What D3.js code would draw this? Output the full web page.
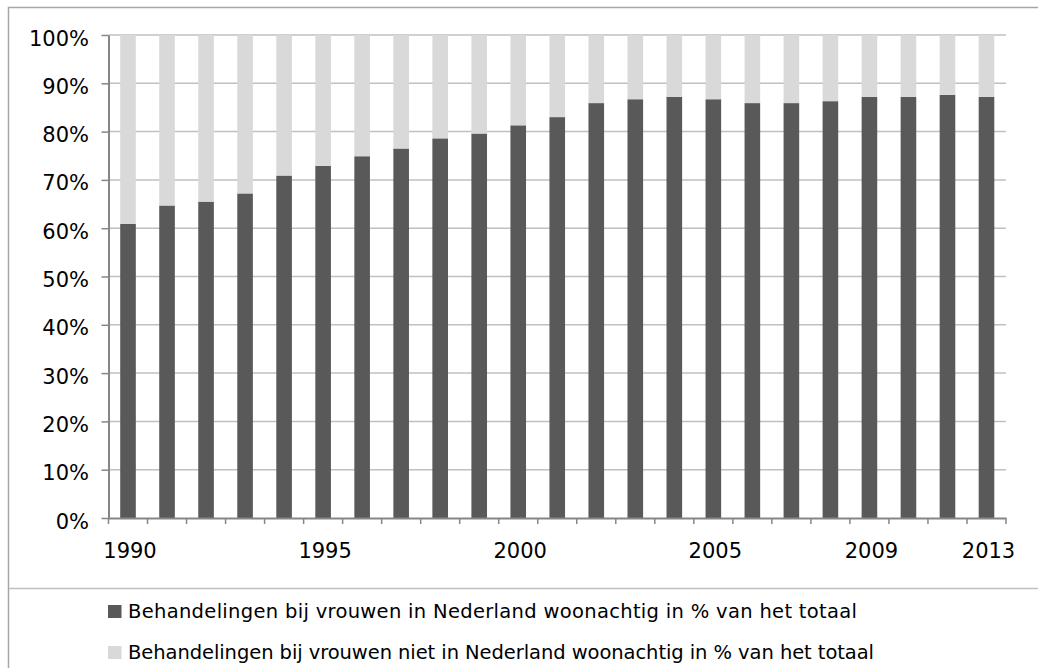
<!DOCTYPE html>
<html>
<head>
<meta charset="utf-8">
<script src="https://cdn.jsdelivr.net/npm/d3@7/dist/d3.min.js"></script>
<style>
  html, body { margin: 0; padding: 0; background: #fff; }
  svg { display: block; font-family: "DejaVu Sans", Verdana, sans-serif; }
</style>
</head>
<body>
<svg id="chart" width="1038" height="668"></svg>
<script>
// Category labels (blank = unlabeled category)
const categories = ["1990","","","","","1995","","","","","2000","","","","","2005","","","","2009","","","2013"];
// Share of treatments for women living in the Netherlands (%)
const inNL = [60.9, 64.7, 65.5, 67.2, 70.9, 72.9, 74.9, 76.5, 78.6, 79.6, 81.3, 83.0, 85.9, 86.7, 87.2, 86.7, 85.9, 85.9, 86.3, 87.2, 87.2, 87.6, 87.2];
// Share of treatments for women not living in the Netherlands (%)
const notNL = [39.1, 35.3, 34.5, 32.8, 29.1, 27.1, 25.1, 23.5, 21.4, 20.4, 18.7, 17.0, 14.1, 13.3, 12.8, 13.3, 14.1, 14.1, 13.7, 12.8, 12.8, 12.4, 12.8];
const yTicks = [0, 10, 20, 30, 40, 50, 60, 70, 80, 90, 100];
const seriesNames = [
  "Behandelingen bij vrouwen in Nederland woonachtig in % van het totaal",
  "Behandelingen bij vrouwen niet in Nederland woonachtig in % van het totaal"
];
const seriesColors = ["#595959", "#d9d9d9"];

(function () {
const svg = d3.select("#chart");
const mLeft = 108.5, mRight = 1006, mTop = 35, mBottom = 518;

// outer frame
svg.append("rect").attr("x", 8.5).attr("y", 7.5).attr("width", 1040).attr("height", 700)
  .attr("fill", "none").attr("stroke", "#a6a6a6").attr("stroke-width", 1.5);
// legend separator
svg.append("line").attr("x1", 9).attr("x2", 1038).attr("y1", 588.5).attr("y2", 588.5)
  .attr("stroke", "#bfbfbf").attr("stroke-width", 1.5);

const idx = d3.range(categories.length);
const x = d3.scaleBand().domain(idx).range([mLeft, mRight]).padding(0);
const xBar = d3.scaleBand().domain(idx).range([mLeft, mRight]).paddingInner(0.6).paddingOuter(0.3);
const y = d3.scaleLinear().domain([0, 100]).range([mBottom, mTop]);

// gridlines
svg.append("g").selectAll("line").data(yTicks.filter(d => d > 0)).join("line")
  .attr("x1", mLeft).attr("x2", mRight)
  .attr("y1", d => y(d)).attr("y2", d => y(d))
  .attr("stroke", "#c0c0c0").attr("stroke-width", 1.5);

// stacked bars
const stackData = idx.map(i => ({ i, a: inNL[i], b: notNL[i] }));
const stack = d3.stack().keys(["a", "b"])(stackData);
svg.append("g").selectAll("g").data(stack).join("g")
  .attr("fill", (d, k) => seriesColors[k])
  .selectAll("rect").data(d => d).join("rect")
  .attr("x", d => xBar(d.data.i))
  .attr("width", xBar.bandwidth())
  .attr("y", d => y(d[1]))
  .attr("height", d => y(d[0]) - y(d[1]));

// y axis
const yAxis = svg.append("g").attr("transform", `translate(${mLeft},0)`)
  .call(d3.axisLeft(y).tickValues(yTicks).tickSizeInner(7).tickSizeOuter(0).tickPadding(12).tickFormat(d => d + "%"));
yAxis.select(".domain").attr("stroke", "#868686").attr("stroke-width", 2);
yAxis.selectAll(".tick line").attr("stroke", "#868686").attr("stroke-width", 1.5);
yAxis.selectAll(".tick text").attr("font-size", 21).attr("font-family", "DejaVu Sans")
  .attr("fill", "#000").attr("dy", 0).attr("y", 10).attr("x", -19.5);

// x axis line and boundary ticks
const xAxis = svg.append("g").attr("transform", `translate(0,${mBottom})`)
  .call(d3.axisBottom(x).tickSize(0).tickPadding(0).tickFormat(i => categories[i]));
xAxis.select(".domain").attr("stroke", "#868686").attr("stroke-width", 2);
xAxis.selectAll(".tick text").attr("font-size", 21).attr("font-family", "DejaVu Sans")
  .attr("fill", "#000").attr("dy", 0).attr("y", 39.5).attr("x", 2);
const bounds = idx.map(i => x(i)).concat([mRight]);
svg.append("g").selectAll("line").data(bounds).join("line")
  .attr("x1", d => d).attr("x2", d => d).attr("y1", mBottom).attr("y2", mBottom + 6)
  .attr("stroke", "#868686").attr("stroke-width", 1.5);

// legend
const legend = svg.append("g");
const legendY = [605, 646];
const legendWidths = [729, 746];
seriesNames.forEach((name, k) => {
  legend.append("rect").attr("x", 108).attr("y", legendY[k]).attr("width", 13.5).attr("height", 13)
    .attr("fill", seriesColors[k]);
  legend.append("text").attr("x", 128).attr("y", legendY[k] + 13)
    .attr("font-size", 19.5).attr("fill", "#000")
    .attr("textLength", legendWidths[k]).attr("lengthAdjust", "spacing")
    .text(name);
});
})();
</script>
</body>
</html>
